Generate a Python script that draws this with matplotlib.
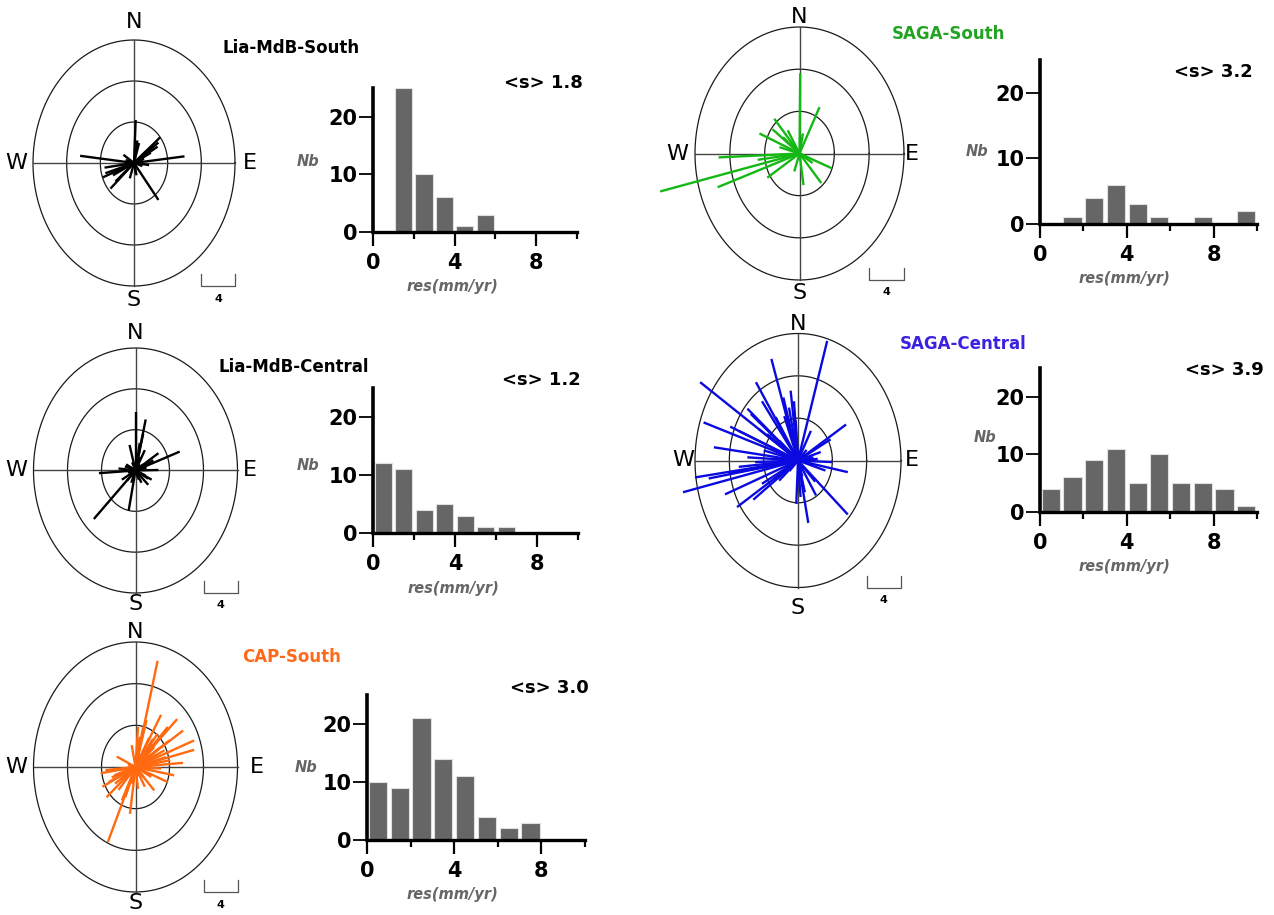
import numpy as np
import matplotlib
matplotlib.use('Agg')
from matplotlib import pyplot as plt
from matplotlib import font_manager

W, H = 1274, 915

# ---------------- data ----------------
names = ['Lia-MdB-South', 'Lia-MdB-Central', 'CAP-South', 'SAGA-South', 'SAGA-Central']
mean_res = ['1.8', '1.2', '3.0', '3.2', '3.9']
colors = ['#000000', '#000000', '#ff6a10', '#14b814', '#0a0ae0']
title_colors = ['#000000', '#000000', '#ff6a1a', '#22a322', '#3a22e0']

# histogram counts, bins of 1 mm/yr from 0 to 10
hist_lia_south = [0, 25, 10, 6, 1, 3, 0, 0, 0, 0]
hist_lia_central = [12, 11, 4, 5, 3, 1, 1, 0, 0, 0]
hist_cap_south = [10, 9, 21, 14, 11, 4, 2, 3, 0, 0]
hist_saga_south = [0, 1, 4, 6, 3, 1, 0, 1, 0, 2]
hist_saga_central = [4, 6, 9, 11, 5, 10, 5, 5, 4, 1]

# residual vectors (east, north) in mm/yr
e_lia_south = [0.2, 3.1, 2.9, 2.8, 6.0, -6.4, -1.25, -3.7, -3.5, -2.8, 2.9, 0.24, 0.6, 1.8, -3.4,
               -2.2, 0.4, 1.5, 2.0, -1.5, -2.5, 1.0, -0.5, 0.8, -1.0, 2.2, -2.0, 0.3, 1.2, -0.8]
n_lia_south = [4.2, 2.5, 2.0, 1.6, 0.65, 0.7, 0.8, -1.4, -0.45, -2.5, -3.6, -1.0, 1.95, -0.2, -1.0,
               -1.8, 2.2, 1.2, 1.0, -0.5, -1.2, -0.3, -1.5, 0.5, 0.3, 1.7, -0.8, -1.2, 0.4, -0.6]

e_lia_central = [0.0, 1.2, 5.2, -4.9, -0.8, -4.3, 2.7, 2.7, -0.7, 0.9, 1.9, 1.5, -1.6, 2.1, 0.7,
                 -1.25, -2.0, 1.1, 0.5, -0.5, 0.5, -0.6, 0.8, -0.3, 0.2, -0.9, 0.7, -0.4, 0.9,
                 -0.7, 0.4, 1.2, -1.1, 1.3, 0.6, -1.0, 1.5]
n_lia_central = [5.75, 5.0, 1.85, -4.75, -3.9, -0.26, 1.7, 0.05, 2.5, 3.6, -0.9, -1.4, -0.9, 1.0,
                 -1.2, 0.4, 0.2, 2.0, 2.7, -1.2, 0.6, 0.3, -0.4, -0.7, 0.9, -0.2, 0.2, 0.8, 0.6,
                 -0.6, -0.9, -0.5, 0.6, 0.3, 1.3, -1.0, -0.8]

e_cap_south = [2.6, -3.25, 4.9, 5.6, 6.9, 6.9, 5.6, 4.55, 3.0, 1.3, 0.9, -0.45, -2.2, -4.1, -3.9,
               -3.4, -2.0, -0.65, -1.2, 2.2, 1.1, 0.3, 3.8, 4.0, 3.4, 2.6, 2.05, 3.6, 4.1, 1.65,
               0.5, 0.3, -3.15, -2.8, -2.4, -3.55, -2.0, -1.6, -0.45, 3.0, 1.85, 3.8, 2.2, 1.45,
               -1.2, 0.8, 1.2, -0.6, 0.5, 1.8, -1.5, 2.5, 1.0, -0.9, 0.3, 2.0, 1.6, 2.8, -1.8, -2.5]
n_cap_south = [10.2, -7.2, 4.6, 3.5, 2.55, 1.65, 0.4, -0.8, 5.0, 4.5, 3.8, 2.1, 1.0, -0.6, -1.9,
               -2.9, -2.2, -4.5, -2.9, -2.25, -1.9, -2.1, -1.45, 2.55, 1.6, 3.2, 2.7, 0.95, 0.65,
               1.6, 2.9, 3.85, -1.45, -1.0, -1.6, -0.3, -0.3, -3.2, -1.6, -0.15, -0.95, 3.85, 1.9,
               0.65, -0.95, 0.6, 1.5, -0.8, 1.8, 0.9, -0.5, 1.2, -1.0, 0.2, -0.9, 2.2, 2.8, 1.8,
               -1.2, -0.8]

e_saga_south = [0.08, 2.3, -16.0, -9.4, -9.3, -4.6, -2.9, -3.1, -1.35, 3.7, 2.5, 0.46, -3.7, -4.8,
                -0.6, 0.4, 1.5, -1.9, -2.3, 0.8]
n_saga_south = [7.6, 4.4, -3.6, -3.2, -0.37, 1.9, 3.3, 2.3, 2.2, -1.4, -2.8, -3.0, -2.3, -0.6,
                -1.7, 1.9, -0.9, 1.55, 0.6, -0.3]

e_saga_central = [3.4, -11.4, -3.1, -4.9, -11.0, -13.4, -12.0, -10.4, -8.5, -7.1, -5.2, -9.8, -7.9,
                  -5.9, -0.86, -1.7, -0.27, 5.6, 5.8, 5.8, 1.2, -0.2, 2.1, 4.0, 2.3, 2.65, 3.8,
                  1.5, -5.9, -4.0, -8.1, -4.2, -2.2, -3.6, -4.6, -2.2, -1.6, -4.2, -1.05, 0.6,
                  0.8, 0.3, 3.2, 2.5, -5.0, -6.9, -0.47, -2.6, -5.5, -6.9, 1.0, -1.5, 0.5, 1.8,
                  -1.0, 2.0]
n_saga_central = [11.3, 7.4, 9.6, 7.4, 3.6, -3.0, -1.6, -1.7, -3.2, -4.4, -3.7, 1.25, 3.2, 4.9,
                  6.6, 5.95, 3.8, 3.4, -1.1, -5.1, -5.9, -4.1, -3.3, -0.15, 0.15, 0.8, 2.0, 2.8,
                  0.3, 0.95, -1.25, -2.2, -1.9, 2.5, 3.0, 1.9, 4.2, 5.6, 5.0, -2.5, -3.0, -3.45,
                  -0.95, 1.4, -0.15, -0.6, 5.6, 4.1, 4.4, 2.8, 1.0, 0.5, -1.5, 0.3, -1.0, -2.0]

hists = [hist_lia_south, hist_lia_central, hist_cap_south, hist_saga_south, hist_saga_central]
vec_e = [e_lia_south, e_lia_central, e_cap_south, e_saga_south, e_saga_central]
vec_n = [n_lia_south, n_lia_central, n_cap_south, n_saga_south, n_saga_central]

# ---------------- layout (pixels) ----------------
# rose: centre x, centre y, half width, half height
rose_box = [(134, 163, 101, 123), (135.5, 470.5, 102, 122.5), (135.5, 767, 102, 125),
            (799.5, 153.5, 104.5, 126.5), (798, 460.5, 103, 127)]
# gap of N, S, W, E letters from the outer ring
compass_gap = [(18, 14, 17, 15), (15, 11, 17, 12), (10, 11, 17, 19),
               (10, 13, 18, 8), (10, 20, 12, 11)]
# hist: left, right, bottom, top
hist_box = [(373, 577, 232, 88), (373, 578, 533, 388), (367, 585, 840, 695),
            (1040, 1257, 224, 60), (1040, 1257, 512, 368)]
title_pos = [(222, 48), (218, 367), (242, 657), (892, 34), (900, 344)]
mean_pos = [(583, 83), (581, 380), (589, 688), (1253, 72), (1264, 370)]
nb_pos = [(308, 162), (308, 465), (306, 767), (977, 152), (985, 437)]

installed = {f.name for f in font_manager.fontManager.ttflist}
compass_family = 'Liberation Sans Narrow' if 'Liberation Sans Narrow' in installed else 'DejaVu Sans'


def px_axes(fig, x0, y0, x1, y1):
    # x0,y0 top-left ; x1,y1 bottom-right in pixels
    return fig.add_axes([x0 / W, 1 - y1 / H, (x1 - x0) / W, (y1 - y0) / H])


fig = plt.figure(figsize=(W / 100, H / 100), dpi=100)

t = np.linspace(0, 2 * np.pi, 400)
R = 12.0
PT = 0.72  # points per pixel

for i in range(5):
    cx, cy, hw, hh = rose_box[i]
    ax = px_axes(fig, cx - hw, cy - hh, cx + hw, cy + hh)
    ax.set_xlim(-R, R)
    ax.set_ylim(-R, R)
    ax.axis('off')
    for r in [4, 8, 12]:
        ax.plot(r * np.cos(t), r * np.sin(t), color='#1a1a1a', lw=0.9, clip_on=False)
    ax.plot([-R, R], [0, 0], color='#444444', lw=1.0, clip_on=False)
    ax.plot([0, 0], [-R, R], color='#444444', lw=1.0, clip_on=False)
    for e, n in zip(vec_e[i], vec_n[i]):
        ax.plot([0, e], [0, n], color=colors[i], lw=1.7, clip_on=False, solid_capstyle='butt')
    gn, gs, gw, ge = compass_gap[i]
    cfont = dict(fontsize=16, family=compass_family, ha='center', va='center')
    ax.annotate('N', (0, R), xytext=(0, gn * PT), textcoords='offset points', **cfont)
    ax.annotate('S', (0, -R), xytext=(0, -gs * PT), textcoords='offset points', **cfont)
    ax.annotate('W', (-R, 0), xytext=(-gw * PT, 0), textcoords='offset points', **cfont)
    ax.annotate('E', (R, 0), xytext=(ge * PT, 0), textcoords='offset points', **cfont)
    # scale bar
    bh = 12.0 / hh * R
    ax.plot([R - 4, R - 4, R, R], [-R + bh, -R, -R, -R + bh], color='#555555', lw=0.9,
            clip_on=False)
    ax.annotate('4', (R - 2, -R), xytext=(0, -9), textcoords='offset points', ha='center',
                va='center', fontsize=8, fontweight='bold')

    fig.text(title_pos[i][0] / W, 1 - title_pos[i][1] / H, names[i], fontsize=12,
             fontweight='bold', color=title_colors[i], ha='left', va='center')

    # histogram
    x0, x1, yb, yt = hist_box[i]
    hx = px_axes(fig, x0, yt, x1, yb)
    centers = np.arange(10) + 0.5
    hx.bar(centers, hists[i], width=0.84, color='#666666', edgecolor='#e0e0e0', lw=0.8)
    hx.set_xlim(0, 10)
    hx.set_ylim(0, 25)
    for s in ['top', 'right']:
        hx.spines[s].set_visible(False)
    hx.spines['left'].set_linewidth(2.6)
    hx.spines['bottom'].set_linewidth(2.4)
    hx.set_yticks([0, 10, 20])
    hx.set_xticks([0, 4, 8])
    hx.set_xticks([2, 6, 10], minor=True)
    hx.tick_params(axis='y', length=10, width=1.3, pad=1, labelsize=15)
    hx.tick_params(axis='x', which='major', length=10, width=1.6, pad=5, labelsize=15)
    hx.tick_params(axis='x', which='minor', length=5, width=1.6)
    for lab in hx.get_xticklabels() + hx.get_yticklabels():
        lab.set_fontweight('bold')
    hx.annotate('res(mm/yr)', (3.9, 0), xytext=(0, -55 * PT), textcoords='offset points',
                ha='center', va='center', fontsize=10.5, fontweight='bold', style='italic',
                color='#666666')
    fig.text(nb_pos[i][0] / W, 1 - nb_pos[i][1] / H, 'Nb', fontsize=10.5, fontweight='bold',
             style='italic', color='#666666', ha='center', va='center')
    fig.text(mean_pos[i][0] / W, 1 - mean_pos[i][1] / H, '<s> ' + mean_res[i], fontsize=13,
             fontweight='bold', ha='right', va='center')

fig.savefig('out.png', dpi=100)
